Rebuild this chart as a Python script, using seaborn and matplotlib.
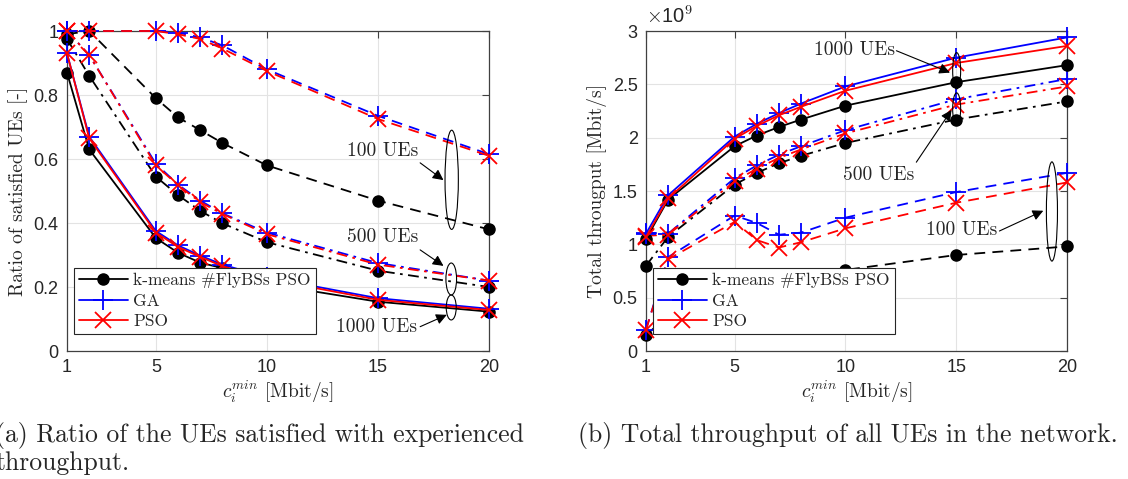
import numpy as np
import pandas as pd
import matplotlib
matplotlib.use("Agg")
import matplotlib.pyplot as plt
import seaborn as sns
from matplotlib.patches import Ellipse
from matplotlib.lines import Line2D
from matplotlib.ticker import FuncFormatter

sns.set_theme(style="whitegrid")
plt.rcParams['font.family'] = ['Liberation Sans', 'DejaVu Sans']
plt.rcParams['mathtext.fontset'] = 'cm'

# --- data ---
c_min = [1, 2, 5, 6, 7, 8, 10, 15, 20]

# ratio of satisfied UEs
sat_100_kmeans = [0.99, 1.0, 0.79, 0.73, 0.69, 0.65, 0.58, 0.47, 0.38]
sat_100_ga = [1.0, 1.0, 1.0, 0.995, 0.98, 0.955, 0.88, 0.735, 0.615]
sat_100_pso = [1.0, 1.0, 1.0, 0.99, 0.975, 0.945, 0.875, 0.725, 0.61]
sat_500_kmeans = [0.975, 0.86, 0.545, 0.487, 0.438, 0.399, 0.34, 0.251, 0.2]
sat_500_ga = [1.0, 0.925, 0.585, 0.52, 0.47, 0.43, 0.37, 0.275, 0.22]
sat_500_pso = [1.0, 0.925, 0.58, 0.518, 0.465, 0.428, 0.365, 0.27, 0.22]
sat_1000_kmeans = [0.87, 0.63, 0.353, 0.307, 0.276, 0.259, 0.21, 0.154, 0.123]
sat_1000_ga = [0.93, 0.67, 0.375, 0.33, 0.298, 0.27, 0.23, 0.165, 0.132]
sat_1000_pso = [0.93, 0.665, 0.37, 0.325, 0.294, 0.265, 0.225, 0.16, 0.128]

# total throughput [x1e9 Mbit/s]
tp_100_kmeans = [0.15, 0.33, 0.56, 0.60, 0.64, 0.69, 0.76, 0.90, 0.98]
tp_100_ga = [0.20, 0.88, 1.27, 1.20, 1.09, 1.11, 1.25, 1.49, 1.67]
tp_100_pso = [0.20, 0.86, 1.21, 1.04, 0.97, 1.02, 1.15, 1.39, 1.58]
tp_500_kmeans = [0.80, 1.07, 1.56, 1.67, 1.76, 1.83, 1.95, 2.17, 2.34]
tp_500_ga = [1.11, 1.10, 1.62, 1.74, 1.84, 1.92, 2.07, 2.36, 2.55]
tp_500_pso = [1.08, 1.09, 1.59, 1.71, 1.81, 1.89, 2.04, 2.31, 2.48]
tp_1000_kmeans = [1.05, 1.42, 1.92, 2.02, 2.10, 2.17, 2.30, 2.52, 2.68]
tp_1000_ga = [1.10, 1.46, 2.01, 2.13, 2.23, 2.32, 2.48, 2.75, 2.94]
tp_1000_pso = [1.07, 1.43, 1.99, 2.11, 2.21, 2.29, 2.44, 2.70, 2.86]

method_names = ['k-means #FlyBSs PSO', 'GA', 'PSO']

sat = {('100', 'kmeans'): sat_100_kmeans, ('100', 'ga'): sat_100_ga, ('100', 'pso'): sat_100_pso,
       ('500', 'kmeans'): sat_500_kmeans, ('500', 'ga'): sat_500_ga, ('500', 'pso'): sat_500_pso,
       ('1000', 'kmeans'): sat_1000_kmeans, ('1000', 'ga'): sat_1000_ga, ('1000', 'pso'): sat_1000_pso}
tp = {('100', 'kmeans'): tp_100_kmeans, ('100', 'ga'): tp_100_ga, ('100', 'pso'): tp_100_pso,
      ('500', 'kmeans'): tp_500_kmeans, ('500', 'ga'): tp_500_ga, ('500', 'pso'): tp_500_pso,
      ('1000', 'kmeans'): tp_1000_kmeans, ('1000', 'ga'): tp_1000_ga, ('1000', 'pso'): tp_1000_pso}

ls_map = {'100': (0, (6, 4)), '500': (0, (6, 3, 1.5, 3)), '1000': '-'}
mk_style = {
    'kmeans': dict(color='black', marker='o', markersize=8, markerfacecolor='black',
                   markeredgecolor='black', markeredgewidth=1.0),
    'ga': dict(color='#0000ff', marker='+', markersize=14, markeredgecolor='#0000ff',
               markeredgewidth=1.3),
    'pso': dict(color='#ff0000', marker='x', markersize=11, markeredgecolor='#ff0000',
                markeredgewidth=1.3),
}

fig = plt.figure(figsize=(11.28, 4.79), dpi=100)
ax1 = fig.add_axes([67 / 1128, 1 - 351 / 479, 422 / 1128, 320 / 479])
ax2 = fig.add_axes([646 / 1128, 1 - 351 / 479, 421 / 1128, 320 / 479])

serif = 'cmr10'
spine_col = '#404040'


def draw(ax, table, scale=1.0):
    for ues in ['100', '500', '1000']:
        for m in ['kmeans', 'ga', 'pso']:
            y = np.array(table[(ues, m)]) * scale
            sns.lineplot(x=c_min, y=y, ax=ax, linestyle=ls_map[ues], lw=1.3,
                         legend=False, clip_on=False, zorder=3, **mk_style[m])


def style(ax):
    ax.set_xlim(1, 20)
    ax.set_xticks([1, 5, 10, 15, 20])
    ax.grid(True, color='#e3e3e3', lw=0.8)
    for s in ax.spines.values():
        s.set_color(spine_col)
        s.set_linewidth(0.9)
    ax.set_facecolor('white')
    ax.tick_params(direction='in', length=5, width=0.8, color=spine_col, top=True, right=True,
                   labelsize=13, labelcolor='#262626', pad=6)
    ax.set_xlabel(r'$c_i^{min}$ [Mbit/s]', fontfamily=serif, fontsize=14, labelpad=2)
    handles = [Line2D([], [], lw=1.3, linestyle='-', **mk_style[m]) for m in ['kmeans', 'ga', 'pso']]
    leg = ax.legend(handles, method_names, loc='lower left', bbox_to_anchor=(0.0, 0.03),
                    prop={'family': serif, 'size': 12.5}, frameon=True, fancybox=False,
                    handlelength=2.8, handletextpad=0.3, borderpad=0.3, labelspacing=0.3,
                    borderaxespad=0.4)
    leg.get_frame().set_edgecolor('#262626')
    leg.get_frame().set_linewidth(0.8)
    leg.get_frame().set_alpha(1)
    leg.set_zorder(10)


def mark(ax, text, txy, start, end, ell_c, ell_w, ell_h, s=1.0):
    ax.add_patch(Ellipse((ell_c[0], ell_c[1] * s), ell_w, ell_h * s, fill=False,
                         edgecolor='black', lw=0.8, zorder=5))
    ax.text(txy[0], txy[1] * s, text, ha='center', va='center', fontfamily=serif, fontsize=14,
            zorder=6)
    ax.annotate('', xy=(end[0], end[1] * s), xytext=(start[0], start[1] * s),
                arrowprops=dict(arrowstyle='-|>', color='black', lw=0.8, mutation_scale=16,
                                shrinkA=0, shrinkB=0), zorder=6)


# --- left: satisfied UEs ---
draw(ax1, sat)
style(ax1)
ax1.set_ylim(0, 1)
ax1.set_yticks([0, 0.2, 0.4, 0.6, 0.8, 1])
ax1.yaxis.set_major_formatter(FuncFormatter(lambda v, p: '%g' % v))
ax1.set_ylabel('Ratio of satisfied UEs [-]', fontfamily=serif, fontsize=14, labelpad=4)
mark(ax1, '100 UEs', (15.2, 0.625), (16.9, 0.588), (17.95, 0.534), (18.32, 0.535), 0.6, 0.31)
mark(ax1, '500 UEs', (15.2, 0.355), (16.9, 0.316), (17.95, 0.266), (18.3, 0.225), 0.48, 0.1)
mark(ax1, '1000 UEs', (14.95, 0.076), (16.9, 0.076), (18.1, 0.113), (18.3, 0.136), 0.45, 0.078)

# --- right: total throughput ---
draw(ax2, tp, scale=1e9)
style(ax2)
ax2.set_ylim(0, 3e9)
ax2.set_yticks(np.arange(0, 3.01e9, 0.5e9))
ax2.yaxis.set_major_formatter(FuncFormatter(lambda v, p: '%g' % (v / 1e9)))
ax2.set_ylabel('Total througput [Mbit/s]', fontfamily=serif, fontsize=14, labelpad=4)
ax2.text(0.0, 1.012, r'$\times$10$^9$', transform=ax2.transAxes, fontsize=14.5, color='#262626',
         ha='left', va='bottom')
mark(ax2, '1000 UEs', (10.39, 2.82), (12.3, 2.815), (14.72, 2.61), (15.02, 2.627), 0.36, 0.34, s=1e9)
mark(ax2, '500 UEs', (11.5, 1.65), (13.2, 1.77), (14.79, 2.26), (15.02, 2.27), 0.36, 0.3, s=1e9)
mark(ax2, '100 UEs', (15.26, 1.134), (16.95, 1.125), (18.93, 1.315), (19.32, 1.308), 0.5, 0.93, s=1e9)

# --- captions ---
fig.text(-0.004, 0.09, '(a) Ratio of the UEs satisfied with experienced', fontfamily=serif,
         fontsize=18.5, ha='left', va='center')
fig.text(-0.004, 0.033, 'throughput.', fontfamily=serif, fontsize=18.5, ha='left', va='center')
fig.text(0.512, 0.09, '(b) Total throughput of all UEs in the network.', fontfamily=serif,
         fontsize=18.5, ha='left', va='center')

fig.savefig('out.png', dpi=100, facecolor='white')
